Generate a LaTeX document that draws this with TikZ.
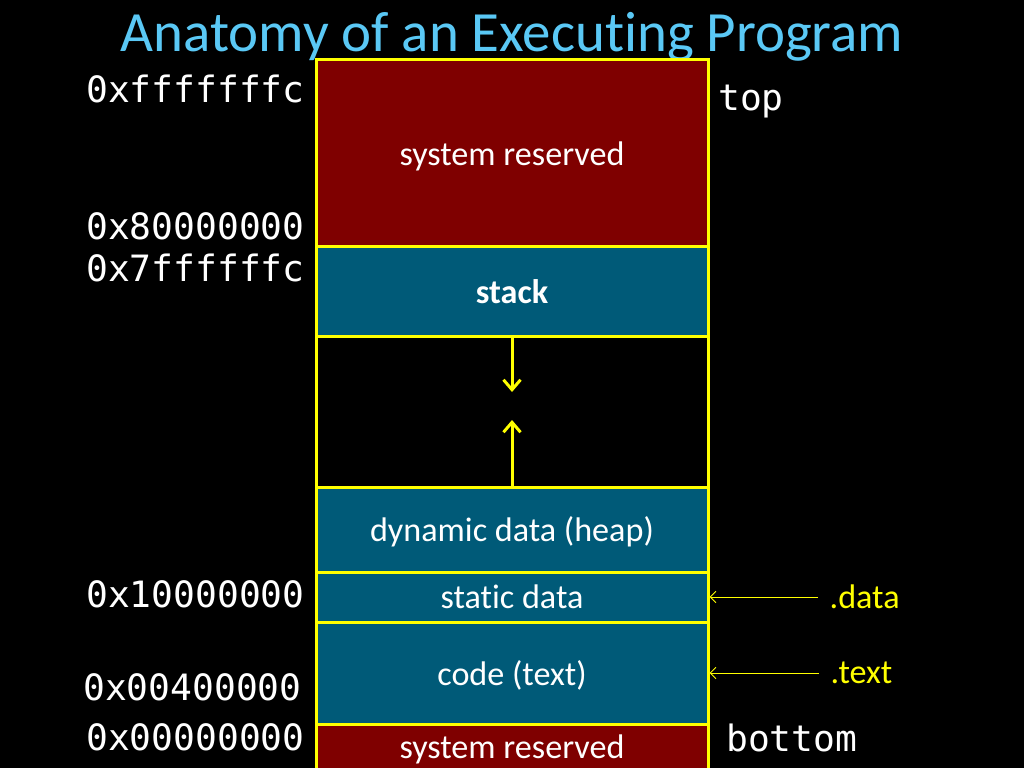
\documentclass[tikz,border=0pt]{standalone}
\usepackage{fontspec}
\setmainfont{Carlito}[Ligatures=NoCommon]
\setmonofont{DejaVu Sans Mono}
\usetikzlibrary{arrows.meta}

\newcommand{\px}{0.703125pt}
\definecolor{segred}{RGB}{127,0,0}
\definecolor{segblue}{RGB}{0,90,120}
\definecolor{titleblue}{RGB}{90,200,245}
\definecolor{segline}{RGB}{255,255,0}

\begin{document}
\begin{tikzpicture}[x=\px, y=-\px,
  seg/.style={rectangle, draw=segline, line width=3*\px, minimum width=392*\px,
    text=white, text depth=0pt, font=\fontsize{24}{28}\selectfont},
  addr/.style={anchor=base west, inner xsep=0pt, text=white, font=\ttfamily\fontsize{25.5}{30}\selectfont},
  sect/.style={anchor=west, inner xsep=8pt, text=segline, font=\fontsize{24}{28}\selectfont},
  growarrow/.style={draw=segline, line width=3*\px, -{Straight Barb[length=7pt,width=12pt]}},
  secarrow/.style={draw=segline, line width=1*\px, -{Straight Barb[length=4pt,width=8pt]}}]

\useasboundingbox[fill=black] (0,0) rectangle (1024,768);

% title
\node[anchor=base, text=titleblue, font=\fontsize{40}{48}\selectfont] (title) at (512,52)
  {Anatomy of an Executing Program};

% memory segments
\path
(512,153.5) node[seg, fill=segred,  minimum height=187*\px] (systop) {system reserved}
(512,291.5) node[seg, fill=segblue, minimum height=89*\px, font=\bfseries\fontsize{24}{28}\selectfont] (stack) {stack}
(512,411.5) node[seg, fill=black,   minimum height=151*\px] (free) {}
(512,529.5) node[seg, fill=segblue, minimum height=85*\px]  (heap) {dynamic data (heap)}
(512,597)   node[seg, fill=segblue, minimum height=50*\px]  (static) {static data}
(512,673)   node[seg, fill=segblue, minimum height=102*\px] (code) {code (text)}
(512,747)   node[seg, fill=segred,  minimum height=46*\px]  (sysbot) {system reserved}
;

% stack and heap grow towards each other
\coordinate (stackend) at (512,392);
\coordinate (heapend) at (512,420);
\draw[growarrow] (stack.south) -- (stackend);
\draw[growarrow] (heap.north) -- (heapend);

% addresses
\path
(86,103) node[addr] (a1) {0xfffffffc}
(86,240) node[addr] (a2) {0x80000000}
(86,282) node[addr] (a3) {0x7ffffffc}
(86,607) node[addr] (a4) {0x10000000}
(83,700) node[addr] (a5) {0x00400000}
(86,750) node[addr] (a6) {0x00000000}
(718,111) node[addr] (top) {top}
(726,751) node[addr] (bottom) {bottom}
;

% assembler sections
\node[sect] (datalbl) at (818,597) {.data};
\node[sect] (textlbl) at (819,673) {.text};
\draw[secarrow] (datalbl.west) -- (static.east);
\draw[secarrow] (textlbl.west) -- (code.east);

\end{tikzpicture}
\end{document}
